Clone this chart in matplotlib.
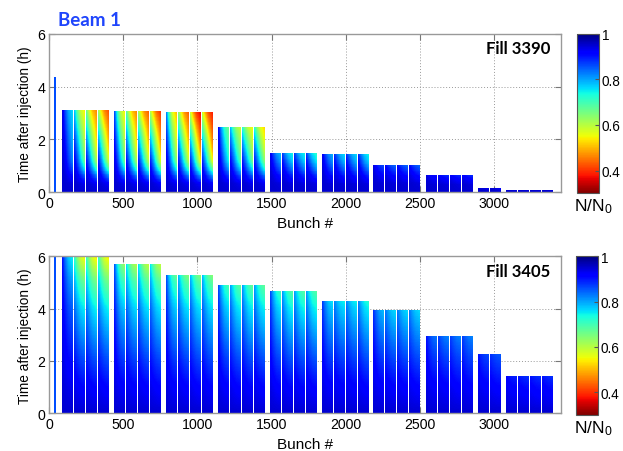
import numpy as np
import matplotlib
matplotlib.use("Agg")
import matplotlib.pyplot as plt
from matplotlib import cm, colors

plt.rcParams['font.family'] = ['Liberation Sans', 'DejaVu Sans']
plt.rcParams['mathtext.fontset'] = 'custom'
plt.rcParams['mathtext.rm'] = 'Liberation Sans'
plt.rcParams['mathtext.it'] = 'Liberation Sans:italic'

# filling scheme in 25 ns slots, same for both fills
train_start = [88, 437, 788, 1141, 1490, 1839, 2187, 2541, 2894, 3083]
train_batches = [4, 4, 4, 4, 4, 4, 4, 4, 2, 4]
batch_len = 72
batch_gap = 9
pilot_slot = 40

# --- fill 3390 ---
hours_3390 = [3.09, 3.06, 3.01, 2.43, 1.47, 1.42, 1.01, 0.64, 0.12, 0.06]
pilot_hours_3390 = 4.35
# N/N0 at the end of each train, first and last bunch of each batch
first_3390 = [[0.94, 0.78, 0.66, 0.62],
              [0.86, 0.68, 0.62, 0.60],
              [0.82, 0.64, 0.58, 0.58],
              [0.92, 0.78, 0.72, 0.72],
              [0.93, 0.87, 0.87, 0.87],
              [0.93, 0.88, 0.88, 0.88],
              [0.94, 0.91, 0.91, 0.91],
              [0.94, 0.92, 0.92, 0.92],
              [0.95, 0.95],
              [0.95, 0.95, 0.95, 0.95]]
last_3390 = [[0.76, 0.54, 0.46, 0.42],
             [0.54, 0.46, 0.43, 0.40],
             [0.50, 0.43, 0.36, 0.38],
             [0.66, 0.58, 0.55, 0.52],
             [0.78, 0.74, 0.74, 0.72],
             [0.79, 0.76, 0.76, 0.74],
             [0.86, 0.84, 0.84, 0.84],
             [0.90, 0.88, 0.88, 0.88],
             [0.93, 0.92],
             [0.94, 0.94, 0.94, 0.94]]
# build-up of the losses with time, head and tail of a batch
loss_t_3390 = [0, 0.3, 0.6, 0.9, 1.2, 1.6, 2.1, 2.6, 3.1]
loss_head_3390 = [0, 0.0, 0.02, 0.07, 0.15, 0.30, 0.50, 0.75, 1.0]
loss_tail_3390 = [0, 0.05, 0.25, 0.52, 0.72, 0.82, 0.90, 0.95, 1.0]

# --- fill 3405 ---
hours_3405 = [5.98, 5.66, 5.25, 4.86, 4.65, 4.27, 3.90, 2.93, 2.25, 1.41]
pilot_hours_3405 = 6.0
first_3405 = [[0.90, 0.72, 0.70, 0.70],
              [0.85, 0.75, 0.75, 0.75],
              [0.85, 0.78, 0.78, 0.78],
              [0.86, 0.80, 0.80, 0.80],
              [0.86, 0.80, 0.80, 0.80],
              [0.87, 0.82, 0.82, 0.82],
              [0.88, 0.83, 0.83, 0.83],
              [0.90, 0.87, 0.87, 0.87],
              [0.90, 0.88],
              [0.91, 0.90, 0.90, 0.90]]
last_3405 = [[0.74, 0.54, 0.53, 0.53],
             [0.62, 0.60, 0.59, 0.59],
             [0.66, 0.64, 0.64, 0.64],
             [0.69, 0.67, 0.67, 0.67],
             [0.70, 0.68, 0.68, 0.68],
             [0.75, 0.74, 0.74, 0.72],
             [0.78, 0.76, 0.76, 0.76],
             [0.83, 0.82, 0.82, 0.82],
             [0.86, 0.85],
             [0.89, 0.88, 0.88, 0.88]]
loss_t_3405 = [0, 1, 2, 3, 4, 5, 6]
loss_head_3405 = [0, 0.08, 0.20, 0.33, 0.47, 0.68, 1.0]
loss_tail_3405 = [0, 0.10, 0.22, 0.36, 0.50, 0.70, 1.0]

n_inj = 0.95          # N/N0 right after injection
pilot_value = 0.86
# shape of the loss along a batch (fraction of the first->last step)
along_j = [0.04, 0.3, 0.6, 1.0]
along_f = [0.0, 0.45, 0.8, 1.0]

cmap = plt.get_cmap('jet_r')
norm = colors.Normalize(vmin=0.3, vmax=1.0)


def piirra(ax, hours, first, last, lt, lhead, ltail, pilot_h):
    dt = 0.03
    j = (np.arange(batch_len) + 0.5) / batch_len
    for i in range(len(train_start)):
        T = hours[i]
        nt = max(2, int(np.ceil(T / dt)))
        t = (np.arange(nt) + 0.5) * T / nt
        gh = np.interp(t, lt, lhead) / max(np.interp(T, lt, lhead), 1e-3)
        gt = np.interp(t, lt, ltail) / max(np.interp(T, lt, ltail), 1e-3)
        g = np.outer(gh, 1 - j) + np.outer(gt, j)
        for b in range(train_batches[i]):
            x0 = train_start[i] + b * (batch_len + batch_gap)
            vtop = first[i][b] + (last[i][b] - first[i][b]) * np.interp(j, along_j, along_f)
            vtop[j < along_j[0]] = n_inj
            val = n_inj - g * (n_inj - vtop)[None, :]
            ax.imshow(val, extent=(x0, x0 + batch_len, 0, T), origin='lower',
                      aspect='auto', cmap=cmap, norm=norm,
                      interpolation='nearest', zorder=1)
    # pilot bunch
    ax.bar(pilot_slot, pilot_h, width=10, color=cmap(norm(pilot_value)),
           linewidth=0, zorder=1)

    ax.set_xlim(0, 3454)
    ax.set_ylim(0, 6)
    ax.set_xticks(np.arange(0, 3001, 500))
    ax.set_yticks([0, 2, 4, 6])
    ax.set_axisbelow(True)
    ax.grid(True, color='#999999', linestyle=(0, (1, 2)), linewidth=0.7)
    ax.tick_params(direction='in', length=4, top=True, right=True,
                   color='#777777', labelsize=10.2, pad=3)
    for s in ax.spines.values():
        s.set_color('#999999')
        s.set_linewidth(1.0)
    ax.set_xlabel('Bunch #', fontsize=11, labelpad=4)
    ax.set_ylabel('Time after injection (h)', fontsize=9.8, labelpad=4)


def vaeripalkki(fig, rect, label_y):
    cax = fig.add_axes(rect)
    sm = cm.ScalarMappable(norm=norm, cmap=cmap)
    cb = fig.colorbar(sm, cax=cax, ticks=[0.4, 0.6, 0.8, 1.0])
    cb.ax.set_yticklabels(['0.4', '0.6', '0.8', '1'])
    cb.ax.tick_params(direction='in', length=3, labelsize=9.8, pad=2, color='#555555')
    cb.outline.set_edgecolor('#555555')
    cb.outline.set_linewidth(0.8)
    fig.text(593 / 623, 1 - label_y / 452, 'N/N$_0$', fontsize=12.5,
             ha='center', va='center')


fig = plt.figure(figsize=(6.23, 4.52), dpi=100)

ax1 = fig.add_axes([0.0791, 0.5723, 0.8214, 0.3509])
piirra(ax1, hours_3390, first_3390, last_3390, loss_t_3390,
       loss_head_3390, loss_tail_3390, pilot_hours_3390)
ax1.text(0.98, 0.912, 'Fill 3390', transform=ax1.transAxes, ha='right', va='center',
         fontsize=12, fontweight='bold', family=['Lato', 'DejaVu Sans'])

ax2 = fig.add_axes([0.0791, 0.0834, 0.8214, 0.3474])
piirra(ax2, hours_3405, first_3405, last_3405, loss_t_3405,
       loss_head_3405, loss_tail_3405, pilot_hours_3405)
ax2.text(0.978, 0.908, 'Fill 3405', transform=ax2.transAxes, ha='right', va='center',
         fontsize=12, fontweight='bold', family=['Lato', 'DejaVu Sans'])

vaeripalkki(fig, [0.9262, 0.5701, 0.0353, 0.3531], 207)
vaeripalkki(fig, [0.9246, 0.0801, 0.0353, 0.3507], 429)

fig.text(58 / 623, 1 - 20.7 / 452, 'Beam 1', color='#1f45fc', fontsize=13.5,
         fontweight='bold', family=['Lato', 'DejaVu Sans'], ha='left', va='center')

fig.savefig('out.png', dpi=100)
